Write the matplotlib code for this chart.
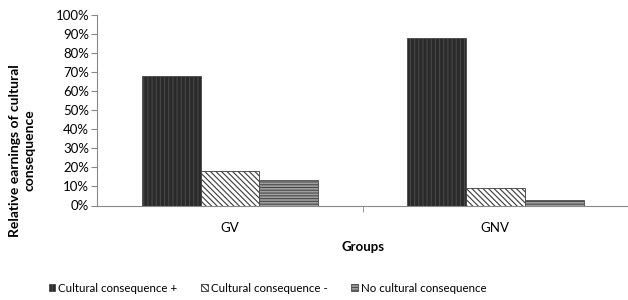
import numpy as np
import matplotlib.pyplot as plt
from matplotlib.ticker import PercentFormatter

groups = ["GV", "GNV"]
series = ["Cultural consequence +", "Cultural consequence -", "No cultural consequence"]
cons_plus = [68, 88]
cons_minus = [18, 9]
no_cons = [13.5, 3]

plt.rcParams['font.family'] = ['Lato', 'DejaVu Sans']
plt.rcParams['hatch.linewidth'] = 0.8

fig = plt.figure(figsize=(6.28, 3.0), dpi=100)
ax = fig.add_axes([0.155, 0.315, 0.845, 0.635])

x = np.arange(len(groups))
w = 0.222
styles = [
    dict(facecolor='#2a2a2a', edgecolor='#484848', hatch='||||'),
    dict(facecolor='white', edgecolor='#3a3a3a', hatch='\\\\\\\\\\\\'),
    dict(facecolor='#a0a0a0', edgecolor='#4a4a4a', hatch='------'),
]
for i, (vals, st) in enumerate(zip([cons_plus, cons_minus, no_cons], styles)):
    ax.bar(x + (i - 1) * w, vals, w, label=series[i], linewidth=0.6, **st)

ax.set_xlim(-0.5, 1.5)
ax.set_ylim(0, 100)
ax.set_yticks(np.arange(0, 101, 10))
ax.yaxis.set_major_formatter(PercentFormatter(decimals=0))
ax.set_xticks(x)
ax.set_xticklabels(groups)
ax.set_xticks([0.5], minor=True)
ax.tick_params(axis='x', which='major', length=0, pad=12, labelsize=9.5)
ax.tick_params(axis='x', which='minor', length=4, color='#888888')
ax.tick_params(axis='y', length=4, color='#888888', labelsize=9.5, pad=2)
for s in ['top', 'right']:
    ax.spines[s].set_visible(False)
for s in ['left', 'bottom']:
    ax.spines[s].set_color('#888888')

ax.set_xlabel("Groups", fontweight='bold', fontsize=9.5, labelpad=5)
ax.set_ylabel("Relative earnings of cultural\nconsequence", fontweight='bold', fontsize=10)
ax.yaxis.set_label_coords(-0.117, 0.29)

fig.legend(loc='center', bbox_to_anchor=(0.426, 0.04), ncol=3, frameon=False,
           fontsize=8.3, handlelength=0.55, handleheight=0.55, handletextpad=0.25,
           columnspacing=2.1)

fig.savefig("out.png", dpi=100)
